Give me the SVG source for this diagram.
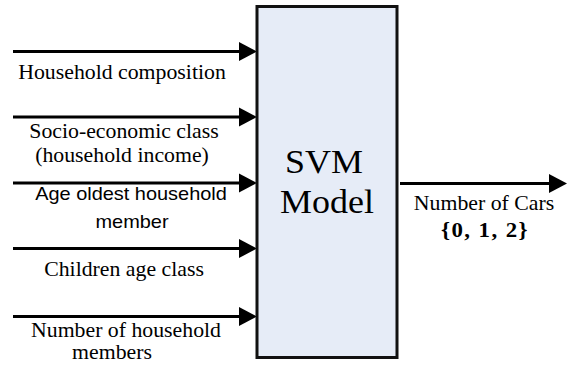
<svg xmlns="http://www.w3.org/2000/svg" width="567" height="365" viewBox="0 0 567 365">
  <style>
    .conn { stroke: #000; stroke-width: 3; fill: none; marker-end: url(#arrow); }
    .t { font-family: "Liberation Serif", serif; fill: #000; text-anchor: middle; font-size: 20px; }
    .s { font-family: "Liberation Sans", sans-serif; fill: #000; text-anchor: middle; font-size: 18.3px; }
  </style>
  <defs>
    <marker id="arrow" markerUnits="userSpaceOnUse" markerWidth="19" markerHeight="20" refX="9" refY="9.5" orient="auto" overflow="visible">
      <path d="M0,0 L18,9.5 L0,19 Z" fill="#000"/>
    </marker>
  </defs>
  <rect width="567" height="365" fill="#fff"/>

  <g id="connectors">
    <line class="conn" x1="13" y1="51.5" x2="248" y2="51.5"/>
    <line class="conn" x1="13" y1="117" x2="248" y2="117"/>
    <line class="conn" x1="13" y1="183" x2="248" y2="183"/>
    <line class="conn" x1="13" y1="248.5" x2="248" y2="248.5"/>
    <line class="conn" x1="13" y1="316.5" x2="248" y2="316.5"/>
    <line class="conn" x1="400" y1="183.5" x2="558" y2="183.5"/>
  </g>

  <g id="svm-model">
    <rect x="257" y="6.5" width="140" height="351" fill="#E6ECF7" stroke="#111" stroke-width="3"/>
    <text class="t" transform="translate(324 173) scale(1.09 1)" style="font-size:33px">SVM</text>
    <text class="t" transform="translate(327 213) scale(1.09 1)" style="font-size:33px">Model</text>
  </g>

  <g id="household-composition">
    <text class="t" transform="translate(122 78.5) scale(1.09 1)">Household composition</text>
  </g>

  <g id="socio-economic-class">
    <text class="t" transform="translate(124 138) scale(1.09 1)">Socio-economic class</text>
    <text class="t" transform="translate(122 162) scale(1.09 1)">(household income)</text>
  </g>

  <g id="age-oldest-member">
    <text class="s" transform="translate(131 200) scale(1.09 1)">Age oldest household</text>
    <text class="s" transform="translate(132 228) scale(1.09 1)">member</text>
  </g>

  <g id="children-age-class">
    <text class="t" transform="translate(124 276) scale(1.09 1)">Children age class</text>
  </g>

  <g id="number-household-members">
    <text class="t" transform="translate(126 337) scale(1.09 1)">Number of household</text>
    <text class="t" transform="translate(112 359) scale(1.09 1)">members</text>
  </g>

  <g id="output-label">
    <text class="t" transform="translate(484 209.5) scale(1.09 1)">Number of Cars</text>
    <text class="t" transform="translate(485 236.5) scale(1.09 1)" style="font-size:21px;font-weight:bold;letter-spacing:1.3px">{0, 1, 2}</text>
  </g>
</svg>
